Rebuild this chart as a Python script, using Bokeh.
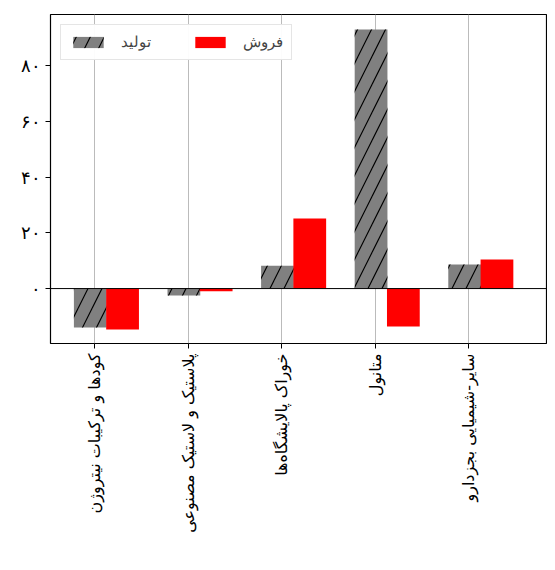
import math
from bokeh.plotting import figure
from bokeh.models import ColumnDataSource, FixedTicker, Span, Legend, LegendItem
from bokeh.embed import file_html
from bokeh.resources import INLINE

categories = ["کودها و ترکیبات نیتروژن", "پلاستیک و لاستیک مصنوعی",
              "خوراک پالایشگاه‌ها", "متانول", "سایر-شیمیایی بجزدارو"]
production = [-14.0, -2.5, 8.2, 92.9, 8.6]
sales = [-14.7, -1.0, 25.1, -13.6, 10.4]
y_ticks = [0, 20, 40, 60, 80]
y_labels = ["۰", "۲۰", "۴۰", "۶۰", "۸۰"]

idx = list(range(len(categories)))
src = ColumnDataSource(dict(
    xp=[i - 0.045 for i in idx], xs=[i + 0.30 for i in idx],
    prod=production, sales=sales))

p = figure(width=547, height=562, output_backend="svg", toolbar_location=None,
           x_range=(-0.47, 4.84), y_range=(-19.7, 98.3),
           min_border_left=50, min_border_right=0, min_border_top=14, min_border_bottom=219)
p.outline_line_color = "black"
p.outline_line_width = 1.2

rp = p.vbar(x="xp", top="prod", bottom=0, width=0.35, source=src, fill_color="gray",
            line_color=None, hatch_pattern="/", hatch_color="black", hatch_scale=28,
            hatch_weight=1.2)
rs = p.vbar(x="xs", top="sales", bottom=0, width=0.35, source=src, fill_color="red",
            line_color=None)

p.add_layout(Span(location=0, dimension="width", line_color="black", line_width=1))

p.xaxis.ticker = FixedTicker(ticks=idx)
p.xaxis.major_label_overrides = {i: c for i, c in enumerate(categories)}
p.xaxis.major_label_orientation = math.pi / 2
p.xaxis.major_label_text_font = "DejaVu Sans"
p.xaxis.major_label_text_font_size = "16px"
p.xaxis.minor_tick_line_color = None
p.yaxis.ticker = FixedTicker(ticks=y_ticks)
p.yaxis.major_label_overrides = dict(zip(y_ticks, y_labels))
p.yaxis.major_label_text_font = "DejaVu Serif"
p.yaxis.major_label_text_font_size = "18px"
p.yaxis.minor_tick_line_color = None
for ax in (p.xaxis, p.yaxis):
    ax.axis_line_color = None
    ax.major_tick_line_color = "black"
    ax.major_label_text_color = "black"
    ax.major_tick_out = 5
    ax.major_tick_in = 0

p.xgrid.grid_line_color = "#bbbbbb"
p.xgrid.grid_line_width = 1
p.ygrid.grid_line_color = None

legend = Legend(items=[LegendItem(label="تولید", renderers=[rp]),
                       LegendItem(label="فروش", renderers=[rs])],
                location="top_left", orientation="horizontal",
                glyph_width=38, glyph_height=14, spacing=40,
                label_text_font="DejaVu Serif", label_text_font_size="15px",
                border_line_color="#cccccc", border_line_width=1,
                margin=10, padding=8, label_standoff=14)
p.add_layout(legend)

open("out.html", "w").write(file_html(p, INLINE))
